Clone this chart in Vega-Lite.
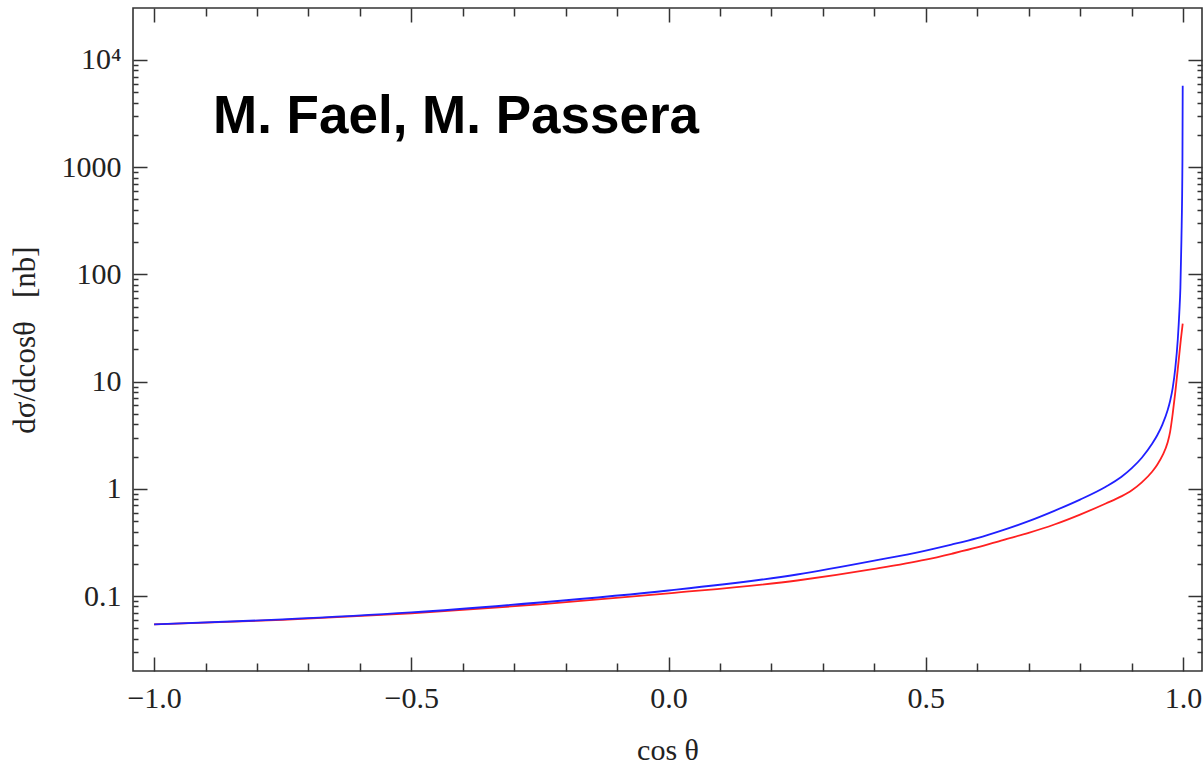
{
  "$schema": "https://vega.github.io/schema/vega-lite/v6.json",
  "width": 1069,
  "height": 663,
  "autosize": "none",
  "padding": {"left": 133, "top": 8, "right": 1, "bottom": 95},
  "background": "white",
  "config": {
    "view": {"stroke": "#333333", "strokeWidth": 1.6},
    "axis": {"grid": false, "domain": false, "labelFont": "Liberation Serif", "labelFontSize": 30, "labelColor": "#222222", "titleFont": "Liberation Serif", "titleFontSize": 30, "titleFontWeight": "normal", "titleColor": "#222222", "tickColor": "#333333", "tickWidth": 1.5, "labelFlush": false, "labelOverlap": false}
  },
  "title": {"text": "M. Fael, M. Passera", "anchor": "start", "frame": "group", "font": "Liberation Sans", "fontSize": 53, "fontWeight": "bold", "color": "#000000", "dx": 80, "dy": 179, "offset": 0, "baseline": "alphabetic"},
  "data": {"values": [
    {"c": -1.0, "v": 0.0544, "s": "a_red"},
    {"c": -0.75, "v": 0.0599, "s": "a_red"},
    {"c": -0.5, "v": 0.0689, "s": "a_red"},
    {"c": -0.25, "v": 0.0835, "s": "a_red"},
    {"c": 0.0, "v": 0.1059, "s": "a_red"},
    {"c": 0.25, "v": 0.1397, "s": "a_red"},
    {"c": 0.4, "v": 0.179, "s": "a_red"},
    {"c": 0.5, "v": 0.2188, "s": "a_red"},
    {"c": 0.55, "v": 0.248, "s": "a_red"},
    {"c": 0.6, "v": 0.2838, "s": "a_red"},
    {"c": 0.65, "v": 0.333, "s": "a_red"},
    {"c": 0.7, "v": 0.389, "s": "a_red"},
    {"c": 0.75, "v": 0.465, "s": "a_red"},
    {"c": 0.8, "v": 0.5754, "s": "a_red"},
    {"c": 0.85, "v": 0.73, "s": "a_red"},
    {"c": 0.88, "v": 0.85, "s": "a_red"},
    {"c": 0.9, "v": 0.966, "s": "a_red"},
    {"c": 0.92, "v": 1.15, "s": "a_red"},
    {"c": 0.94, "v": 1.445, "s": "a_red"},
    {"c": 0.95, "v": 1.68, "s": "a_red"},
    {"c": 0.96, "v": 2.04, "s": "a_red"},
    {"c": 0.97, "v": 2.69, "s": "a_red"},
    {"c": 0.975, "v": 3.4, "s": "a_red"},
    {"c": 0.98, "v": 5.0, "s": "a_red"},
    {"c": 0.985, "v": 7.9, "s": "a_red"},
    {"c": 0.99, "v": 13.2, "s": "a_red"},
    {"c": 0.993, "v": 18.2, "s": "a_red"},
    {"c": 0.996, "v": 25, "s": "a_red"},
    {"c": 0.9995, "v": 34.7, "s": "a_red"},
    {"c": -1.0, "v": 0.0544, "s": "b_blue"},
    {"c": -0.75, "v": 0.0605, "s": "b_blue"},
    {"c": -0.5, "v": 0.0703, "s": "b_blue"},
    {"c": -0.25, "v": 0.0871, "s": "b_blue"},
    {"c": 0.0, "v": 0.1127, "s": "b_blue"},
    {"c": 0.25, "v": 0.1589, "s": "b_blue"},
    {"c": 0.4, "v": 0.214, "s": "b_blue"},
    {"c": 0.5, "v": 0.266, "s": "b_blue"},
    {"c": 0.55, "v": 0.302, "s": "b_blue"},
    {"c": 0.6, "v": 0.347, "s": "b_blue"},
    {"c": 0.65, "v": 0.412, "s": "b_blue"},
    {"c": 0.7, "v": 0.50, "s": "b_blue"},
    {"c": 0.75, "v": 0.624, "s": "b_blue"},
    {"c": 0.8, "v": 0.794, "s": "b_blue"},
    {"c": 0.85, "v": 1.047, "s": "b_blue"},
    {"c": 0.88, "v": 1.29, "s": "b_blue"},
    {"c": 0.9, "v": 1.55, "s": "b_blue"},
    {"c": 0.92, "v": 1.95, "s": "b_blue"},
    {"c": 0.94, "v": 2.63, "s": "b_blue"},
    {"c": 0.95, "v": 3.16, "s": "b_blue"},
    {"c": 0.96, "v": 3.98, "s": "b_blue"},
    {"c": 0.97, "v": 5.37, "s": "b_blue"},
    {"c": 0.975, "v": 6.6, "s": "b_blue"},
    {"c": 0.98, "v": 8.7, "s": "b_blue"},
    {"c": 0.985, "v": 13.2, "s": "b_blue"},
    {"c": 0.99, "v": 25, "s": "b_blue"},
    {"c": 0.993, "v": 45, "s": "b_blue"},
    {"c": 0.995, "v": 75, "s": "b_blue"},
    {"c": 0.997, "v": 210, "s": "b_blue"},
    {"c": 0.999, "v": 1200, "s": "b_blue"},
    {"c": 0.9995, "v": 5740, "s": "b_blue"}
  ]},
  "layer": [
    {
      "mark": {"type": "line", "strokeWidth": 1.8, "interpolate": "monotone"},
      "encoding": {
        "x": {"field": "c", "type": "quantitative", "scale": {"domain": [-1.041, 1.037], "nice": false, "zero": false},
              "axis": {"orient": "bottom", "values": [-1, -0.5, 0, 0.5, 1], "format": ".1f", "ticks": false, "labelPadding": 12, "title": "cos θ", "titlePadding": 22}},
        "y": {"field": "v", "type": "quantitative", "scale": {"type": "log", "domain": [0.02, 30550], "nice": false},
              "axis": {"orient": "left", "values": [0.1, 1, 10, 100, 1000, 10000], "ticks": false, "labelPadding": 12,
                       "labelExpr": "datum.value >= 10000 ? '10⁴' : datum.value < 1 ? '0.1' : format(datum.value, 'd')",
                       "title": "dσ/dcosθ\u2002\u2005[nb]", "titleFontSize": 31, "titlePadding": 20}},
        "color": {"field": "s", "type": "nominal", "scale": {"domain": ["a_red", "b_blue"], "range": ["#ff2020", "#2020ff"]}, "legend": null}
      }
    },
    {
      "mark": {"type": "line", "opacity": 0},
      "encoding": {
        "x": {"field": "c", "type": "quantitative", "scale": {"domain": [-1.041, 1.037], "nice": false, "zero": false},
              "axis": {"orient": "bottom", "values": [-1, -0.5, 0, 0.5, 1], "labels": false, "tickSize": -14, "title": null}},
        "y": {"field": "v", "type": "quantitative", "scale": {"type": "log", "domain": [0.02, 30550], "nice": false},
              "axis": {"orient": "left", "values": [0.1, 1, 10, 100, 1000, 10000], "labels": false, "tickSize": -14, "title": null}}
      }
    },
    {
      "mark": {"type": "line", "opacity": 0},
      "encoding": {
        "x": {"field": "c", "type": "quantitative", "scale": {"domain": [-1.041, 1.037], "nice": false, "zero": false},
              "axis": {"orient": "bottom", "values": [-0.9, -0.8, -0.7, -0.6, -0.4, -0.3, -0.2, -0.1, 0.1, 0.2, 0.3, 0.4, 0.6, 0.7, 0.8, 0.9], "labels": false, "tickSize": -8, "title": null}},
        "y": {"field": "v", "type": "quantitative", "scale": {"type": "log", "domain": [0.02, 30550], "nice": false},
              "axis": {"orient": "left", "values": [0.03, 0.04, 0.05, 0.06, 0.07, 0.08, 0.09, 0.2, 0.3, 0.4, 0.5, 0.6, 0.7, 0.8, 0.9, 2, 3, 4, 5, 6, 7, 8, 9, 20, 30, 40, 50, 60, 70, 80, 90, 200, 300, 400, 500, 600, 700, 800, 900, 2000, 3000, 4000, 5000, 6000, 7000, 8000, 9000], "labels": false, "tickSize": -5, "title": null}}
      }
    },
    {
      "mark": {"type": "line", "opacity": 0},
      "encoding": {
        "x": {"field": "c", "type": "quantitative", "scale": {"domain": [-1.041, 1.037], "nice": false, "zero": false},
              "axis": {"orient": "top", "values": [-1, -0.5, 0, 0.5, 1], "labels": false, "tickSize": -14, "title": null}},
        "y": {"field": "v", "type": "quantitative", "scale": {"type": "log", "domain": [0.02, 30550], "nice": false},
              "axis": {"orient": "right", "values": [0.1, 1, 10, 100, 1000, 10000], "labels": false, "tickSize": -14, "title": null}}
      }
    },
    {
      "mark": {"type": "line", "opacity": 0},
      "encoding": {
        "x": {"field": "c", "type": "quantitative", "scale": {"domain": [-1.041, 1.037], "nice": false, "zero": false},
              "axis": {"orient": "top", "values": [-0.9, -0.8, -0.7, -0.6, -0.4, -0.3, -0.2, -0.1, 0.1, 0.2, 0.3, 0.4, 0.6, 0.7, 0.8, 0.9], "labels": false, "tickSize": -8, "title": null}},
        "y": {"field": "v", "type": "quantitative", "scale": {"type": "log", "domain": [0.02, 30550], "nice": false},
              "axis": {"orient": "right", "values": [0.03, 0.04, 0.05, 0.06, 0.07, 0.08, 0.09, 0.2, 0.3, 0.4, 0.5, 0.6, 0.7, 0.8, 0.9, 2, 3, 4, 5, 6, 7, 8, 9, 20, 30, 40, 50, 60, 70, 80, 90, 200, 300, 400, 500, 600, 700, 800, 900, 2000, 3000, 4000, 5000, 6000, 7000, 8000, 9000], "labels": false, "tickSize": -5, "title": null}}
      }
    }
  ],
  "resolve": {"axis": {"x": "independent", "y": "independent"}}
}
